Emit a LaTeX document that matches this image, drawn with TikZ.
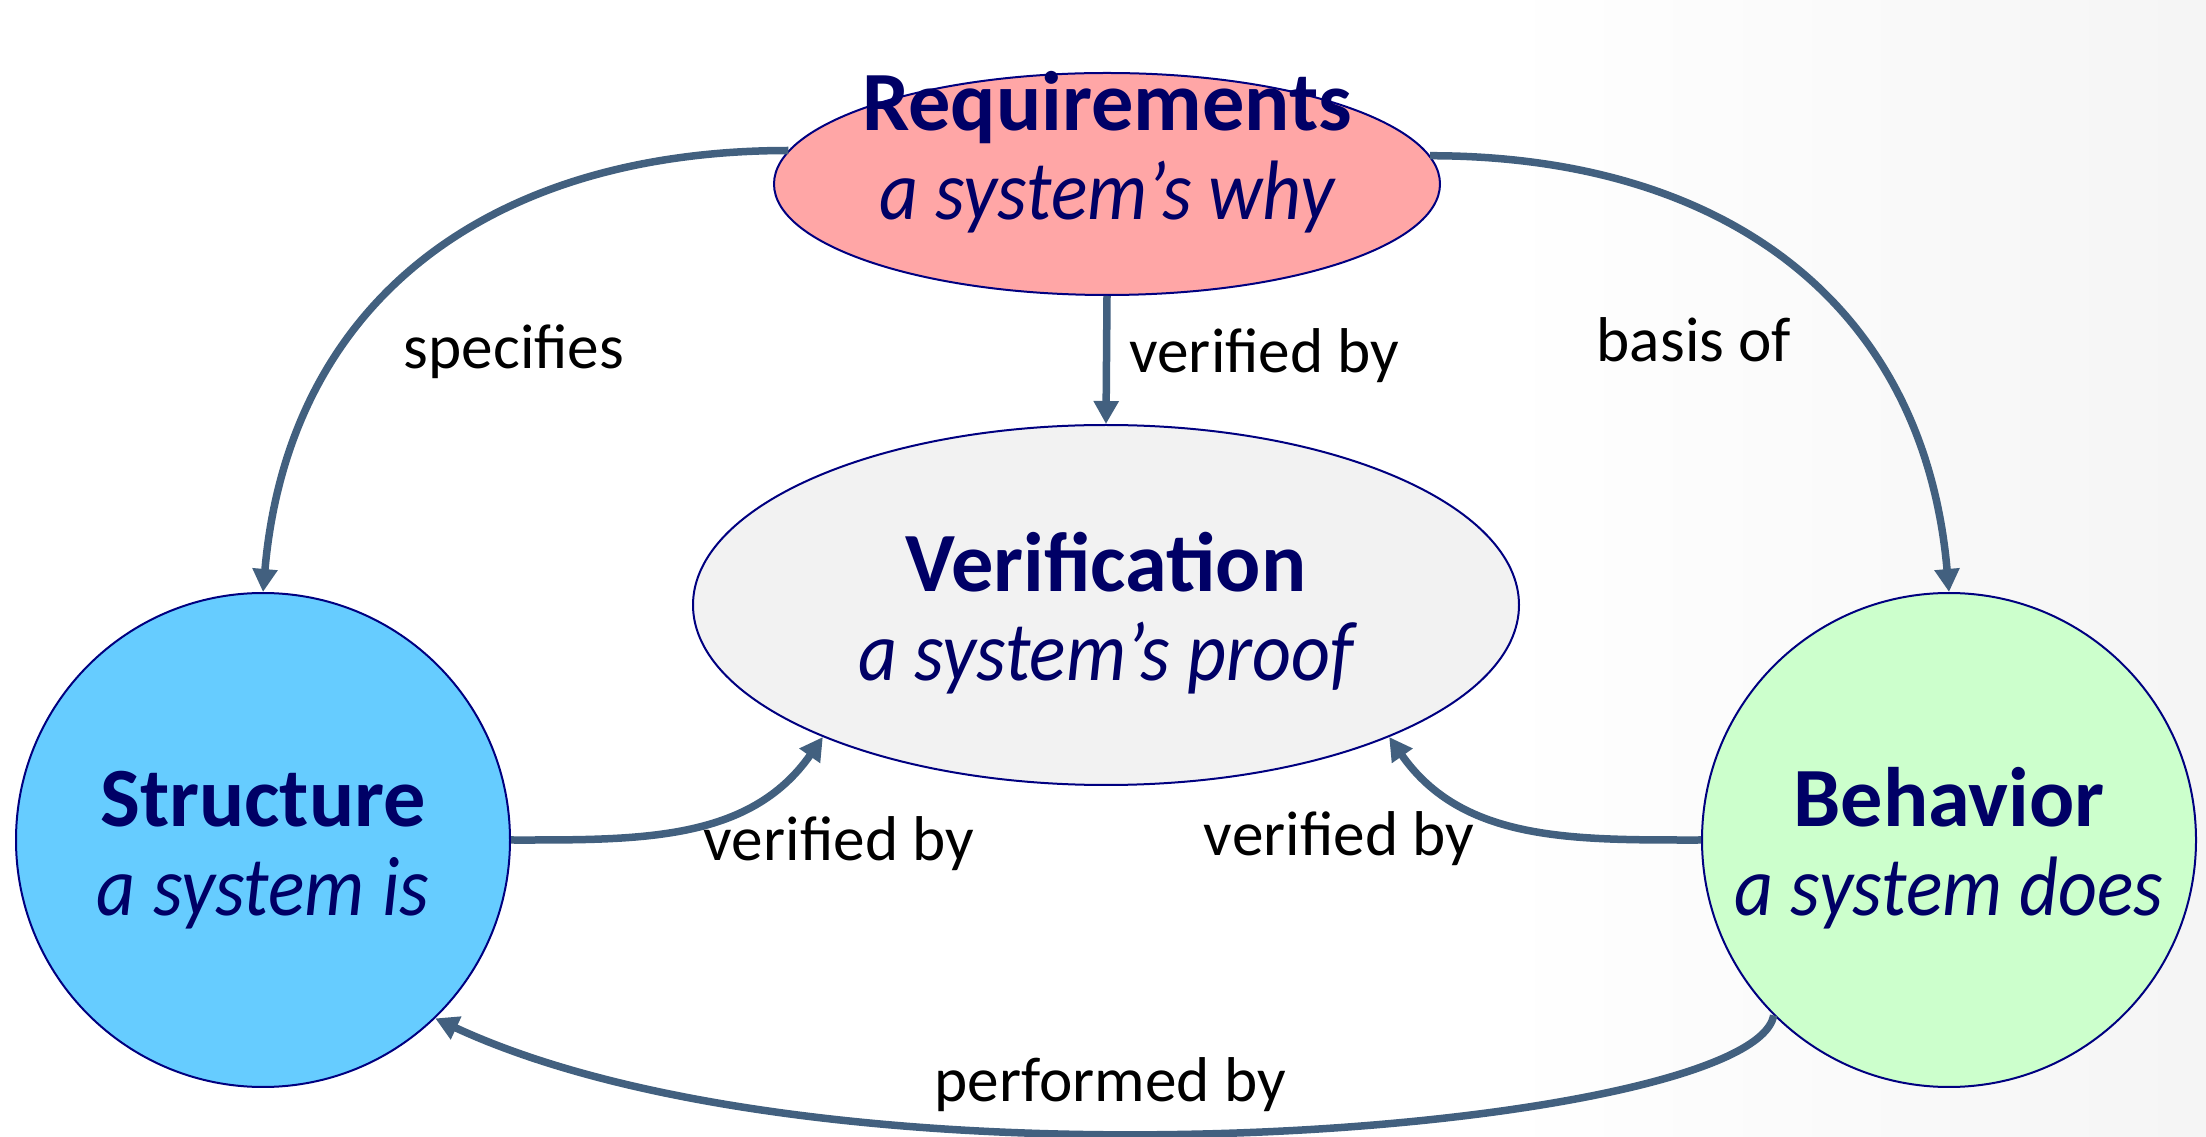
\documentclass[tikz,border=0pt]{standalone}
\usepackage{fontspec}
\setmainfont{Carlito}
\newfontfamily\narrowit[FakeStretch=0.9]{Carlito}
\usetikzlibrary{arrows.meta,shapes.geometric}
\definecolor{navytext}{HTML}{000066}
\definecolor{navyline}{HTML}{000080}
\definecolor{linkblue}{HTML}{42607F}
\definecolor{reqfill}{HTML}{FFA6A6}
\definecolor{verfill}{HTML}{F2F2F2}
\definecolor{strfill}{HTML}{66CCFF}
\definecolor{behfill}{HTML}{CCFFCC}
\newcommand{\viewname}[2]{\rule{0pt}{0.9em}\textbf{#1}\\{\narrowit\itshape #2}}

\begin{document}
\begin{tikzpicture}[
 x=0.1mm,y=0.1mm,
 title/.style={align=center,text=navytext,inner sep=0pt,font=\fontsize{24}{25.5}\selectfont},
 oval/.style={ellipse,draw=navyline,line width=0.2mm,inner sep=0pt},
 disc/.style={circle,draw=navyline,line width=0.2mm,inner sep=0pt,minimum size=49.4mm,title},
 lbl/.style={font=\fontsize{18}{18}\selectfont},
 arr/.style={-{Triangle[length=2.3mm,width=2.4mm]},line width=0.75mm,draw=linkblue}
]
\useasboundingbox (0,0) rectangle (2206,-1137);
\shade[left color=white,right color=black!4] (1500,0) rectangle (2206,-1137);

% the four views
\node[oval,fill=reqfill,minimum width=66.6mm,minimum height=22.2mm] (req) at (1107,-184) {};
\node[title] (reqtext) at (1107,-144) {\viewname{Requirements}{a system’s why}};
\node[oval,fill=verfill,minimum width=82.6mm,minimum height=36mm,title] (ver) at (1106,-605)
 {\viewname{Verification}{a system’s proof}};
\node[disc,fill=strfill] (str) at (263,-840) {\viewname{Structure}{a system is}};
\node[disc,fill=behfill] (beh) at (1949,-840) {\viewname{Behavior}{a system does}};

% relations
\draw[arr] (req.174) to[out=180,in=85,looseness=1.1] (str.north);
\draw[arr] (req.5) to[out=0,in=95,looseness=1.1] (beh.north);
\draw[arr] (req.south) -- (ver.north);
\draw[arr] (str.east) to[out=0,in=235] (ver.205);
\draw[arr] (beh.west) to[out=180,in=-55] (ver.335);
\draw[arr] (beh.225) .. controls +(-20,-115) and +(410,-190) .. (str.-46);

\node[lbl] (specifies) at (514,-352) {specifies};
\node[lbl,anchor=west] (reqver) at (1117,-356) {verified by};
\node[lbl] (basis) at (1694,-340) {basis of};
\node[lbl] (strver) at (839,-844) {verified by};
\node[lbl] (behver) at (1339,-839) {verified by};
\node[lbl] (performed) at (1110,-1085) {performed by};
\end{tikzpicture}
\end{document}
